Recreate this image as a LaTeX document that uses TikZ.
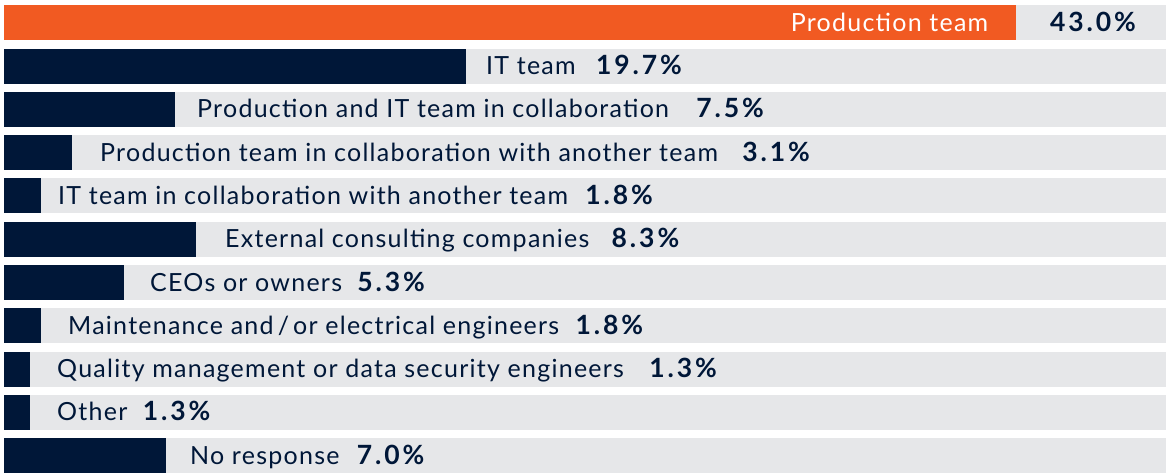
\documentclass[tikz,border=0pt]{standalone}
\usepackage{fontspec}
\setmainfont{Lato}
\newfontfamily\barfont[LetterSpace=5]{Lato}
\newfontfamily\pctfont[LetterSpace=11]{Lato}
\usetikzlibrary{positioning}

\definecolor{barnavy}{HTML}{001738}
\definecolor{barorange}{HTML}{F15A22}
\definecolor{trackgray}{HTML}{E6E7E9}

\tikzset{
    track/.style={fill=trackgray, anchor=north west, inner sep=0pt,
        minimum width=1162pt, minimum height=35pt},
    bar/.style={fill=barnavy, anchor=north west, inner sep=0pt, minimum height=35pt},
    barlabel/.style={text=barnavy, inner sep=0pt, anchor=west, text height=17.5pt, text depth=0pt,
        font=\barfont\fontsize{25}{27}\selectfont},
    barpct/.style={text=barnavy, inner sep=0pt, text height=17.5pt, text depth=0pt,
        font=\pctfont\bfseries\fontsize{26.5}{28}\selectfont},
}

\begin{document}
\begin{tikzpicture}[x=1pt,y=-1pt]
    \useasboundingbox (0,0) rectangle (1168,472);

    % top answer
    \node[track] (track0) at (4,5) {};
    \node[bar, fill=barorange, minimum width=1012pt] (bar0) at (4,5) {};
    \node[barlabel, text=white, anchor=east] (lab0) at ([xshift=-28pt]bar0.east) {Production team};
    \node[barpct] (pct0) at (1093,22.5) {43.0\%};

    % other answers: bar width / label x / gap / share / label
    \foreach \w/\x/\g/\v/\txt [count=\i] in {462/486/20/19.7/{IT team},
            171/197/27/7.5/{Production and IT team in collaboration},
            68/100/24/3.1/{Production team in collaboration with another team},
            37/58/17/1.8/{IT team in collaboration with another team},
            192/225/22/8.3/{External consulting companies},
            120/150/15/5.3/{CEOs or owners},
            37/68/16/1.8/{Maintenance and\,/\,or electrical engineers},
            26/57/25/1.3/{Quality management or data security engineers},
            26/57/15/1.3/{Other},
            162/190/17/7.0/{No response}} {
        \node[track] (track\i) at (4,5+43.3*\i) {};
        \node[bar, minimum width=\w pt] (bar\i) at (4,5+43.3*\i) {};
        \node[barlabel] (lab\i) at (\x,22.5+43.3*\i) {\txt};
        \node[barpct, right=\g pt of lab\i] (pct\i) {\v\%};
    }
\end{tikzpicture}
\end{document}
